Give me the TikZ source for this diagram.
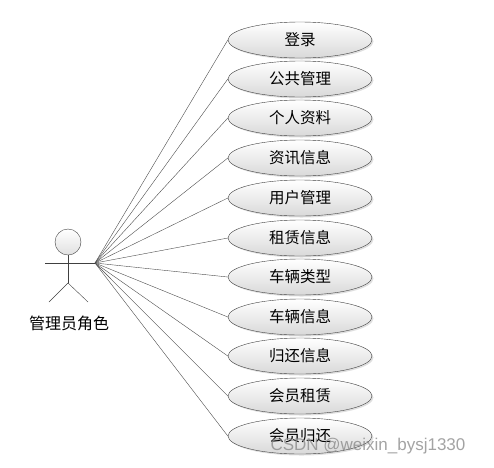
\documentclass[tikz,border=0pt]{standalone}
\usepackage{fontspec}
\newfontfamily\cjk{Noto Sans CJK SC}
\newfontfamily\wmfont{Liberation Sans}
\usetikzlibrary{shapes.geometric,shadows}

\tikzset{
    usecase/.style={ellipse, draw=black!75, thin, minimum width=144pt, minimum height=36pt,
        inner sep=0pt, top color=white, bottom color=black!15,
        drop shadow={shadow xshift=1.5pt, shadow yshift=-1.5pt, opacity=0.25},
        font=\cjk\fontsize{15.5}{17}\selectfont},
    link/.style={draw=black!70, thin},
}

\begin{document}
\begin{tikzpicture}[x=1pt, y=-1pt, line join=round]
    \useasboundingbox (0,0) rectangle (494,467);

    % Actor
    \node[circle, draw=black!75, thin, minimum size=26pt, inner sep=0pt,
          top color=white, bottom color=black!12] (head) at (68,242) {};
    \coordinate (hip) at (68,283);
    \coordinate (lhand) at (45,263);
    \coordinate (rhand) at (95,263);
    \coordinate (lfoot) at (49,302);
    \coordinate (rfoot) at (88,302);
    \draw[black!75, thin] (head) -- (hip);
    \draw[black!75, thin] (lhand) -- (rhand);
    \draw[black!75, thin] (lfoot) -- (hip) -- (rfoot);
    \node[font=\cjk\fontsize{16}{18}\selectfont] (admin) at (69,323) {管理员角色};

    % Use cases
    \node[usecase] (login)    at (300,40)  {登录};
    \node[usecase] (public)   at (300,79)  {公共管理};
    \node[usecase] (profile)  at (300,118) {个人资料};
    \node[usecase] (news)     at (300,158) {资讯信息};
    \node[usecase] (users)    at (300,198) {用户管理};
    \node[usecase] (rental)   at (300,238) {租赁信息};
    \node[usecase] (types)    at (300,277) {车辆类型};
    \node[usecase] (vehicles) at (300,317) {车辆信息};
    \node[usecase] (returns)  at (300,356) {归还信息};
    \node[usecase] (mrent)    at (300,396) {会员租赁};
    \node[usecase] (mreturn)  at (300,436) {会员归还};

    % Links
    \foreach \uc in {login, public, profile, news, users, rental, types, vehicles, returns, mrent, mreturn}
        \draw[link] (rhand) -- (\uc.west);

    % Watermark
    \node[font=\wmfont\fontsize{17}{19}\selectfont, text=black!45, opacity=0.8] (mark) at (368,446) {CSDN @weixin\_bysj1330};
\end{tikzpicture}
\end{document}
